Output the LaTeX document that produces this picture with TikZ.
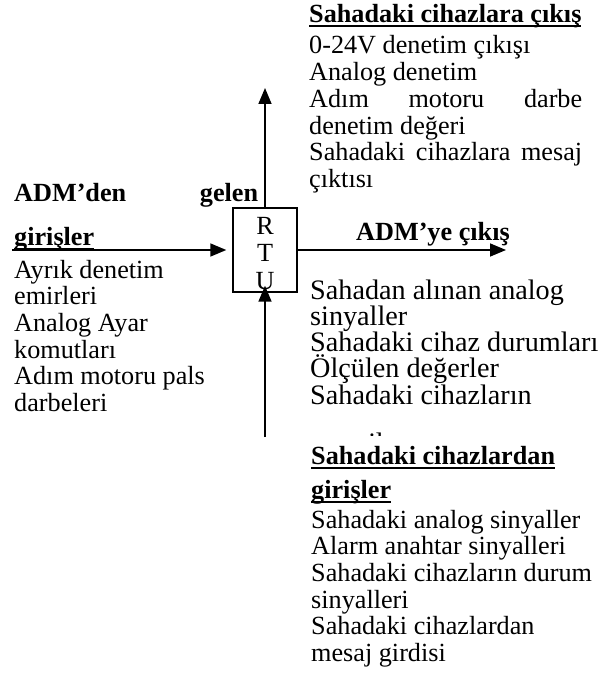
\documentclass[tikz,border=0pt]{standalone}
\usepackage{fontspec}
\setmainfont{Liberation Serif}
\usetikzlibrary{arrows.meta}
% bold heading with a thick rule just under the baseline
\newcommand\hdrline[1]{\setbox0=\hbox{#1}\rlap{\vrule width\wd0 height -2.5pt depth 4.5pt}\box0}
\begin{document}
\begin{tikzpicture}[x=1pt,y=-1pt,
  txt/.style={anchor=base west, inner sep=0pt, font=\fontsize{26.2}{26.7}\selectfont},
  bigtxt/.style={txt, font=\fontsize{28.2}{26.3}\selectfont},
  hd/.style={txt, font=\fontsize{26.2}{26.7}\selectfont\bfseries},
  flow/.style={line width=1.6pt, -{Triangle[length=16pt,width=13pt]}},
  rtu/.style={draw, line width=1.4pt, minimum width=64pt, minimum height=84pt, inner sep=0pt}]
\useasboundingbox (0,0) rectangle (604,690);

% central unit
\node[rtu] (rtu) at (265,250) {};
\node[txt, anchor=base] (lr) at (265,234) {R};
\node[txt, anchor=base] (lt) at (265,261) {T};
\node[txt, anchor=base] (lu) at (265,289) {U};

% signal flows
\coordinate (upend) at (265,88);
\coordinate (instart) at (12,250);
\coordinate (outend) at (506,250);
\coordinate (fieldstart) at (265,437);
\draw[flow] (rtu.north) -- (upend);
\draw[flow, shorten >=6pt] (instart) -- (rtu.west);
\draw[flow] (rtu.east) -- (outend);
\draw[flow, shorten >=-7pt] (fieldstart) -- (rtu.south);

% outputs to field devices
\node[hd] (outhd) at (309,23) {\hdrline{Sahadaki cihazlara çıkış}};
\node[txt] (outlist) at (309,54) {\parbox[t]{273pt}{%
  0-24V denetim çıkışı\\
  Analog denetim\\
  \makebox[\linewidth][s]{Adım motoru darbe}\\
  denetim değeri\\
  \makebox[\linewidth][s]{Sahadaki cihazlara mesaj}\\
  çıktısı\par}};

% inputs from the master station
\node[hd] (inhd) at (14,201) {\makebox[244pt][s]{ADM’den gelen}};
\node[hd] (inhd2) at (14,245) {\hdrline{girişler}};
\node[txt] (inlist) at (14,278) {\parbox[t]{230pt}{%
  Ayrık denetim\\
  emirleri\\
  Analog Ayar\\
  komutları\\
  Adım motoru pals\\
  darbeleri\par}};

% output to the master station
\node[hd] (admout) at (356,240) {ADM’ye çıkış};
\node[bigtxt] (admlist) at (310,299) {\parbox[t]{294pt}{%
  Sahadan alınan analog\\
  sinyaller\\
  Sahadaki cihaz durumları\\
  Ölçülen değerler\\
  Sahadaki cihazların\par}};
\begin{scope}
  \clip (300,428) rectangle (480,435);
  \node[bigtxt] (admlast) at (310,452) {mesajları};
\end{scope}

% inputs from field devices
\node[hd] (fldhd) at (311,464) {\hdrline{Sahadaki cihazlardan}};
\node[hd] (fldhd2) at (311,498) {\hdrline{girişler}};
\node[txt] (fldlist) at (311,528) {\parbox[t]{293pt}{%
  Sahadaki analog sinyaller\\
  Alarm anahtar sinyalleri\\
  Sahadaki cihazların durum\\
  sinyalleri\\
  Sahadaki cihazlardan\\
  mesaj girdisi\par}};
\end{tikzpicture}
\end{document}
